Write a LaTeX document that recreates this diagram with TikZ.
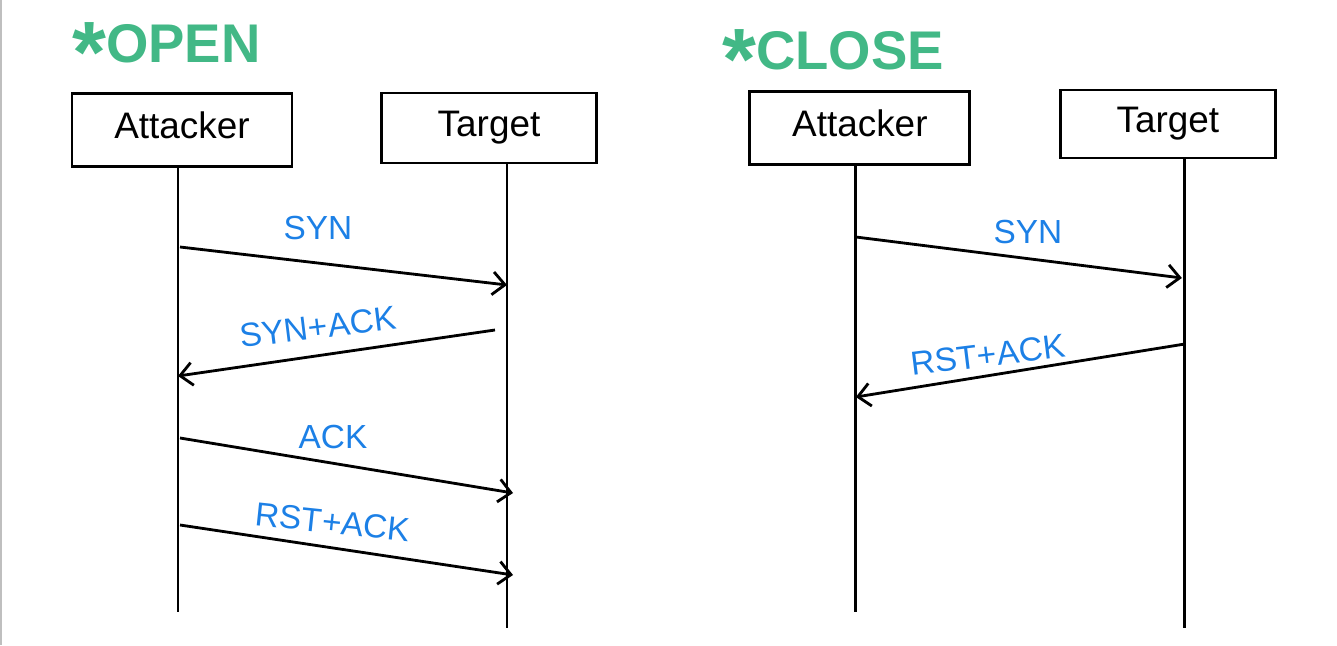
\documentclass[tikz,border=0pt]{standalone}
\usepackage{fontspec}
\setmainfont{Liberation Sans}
\usetikzlibrary{arrows.meta}

\definecolor{markgreen}{RGB}{66,184,134}
\definecolor{penblue}{RGB}{28,128,230}

\tikzset{
    actor/.style={draw, line width=1.6pt, minimum width=4.4cm, minimum height=1.45cm,
        text height=1.0em, text depth=0pt, font=\fontsize{21}{24}\selectfont},
    lifeline/.style={line width=1.6pt},
    msg/.style={line width=1.6pt, -{Straight Barb[length=7pt,width=13pt,line width=1.6pt]}},
    msglabel/.style={text=penblue, font=\fontsize{19}{22}\selectfont},
    heading/.style={text=markgreen, anchor=west, font=\fontsize{31}{36}\bfseries\selectfont}
}

\begin{document}
\begin{tikzpicture}[x=0.02cm, y=-0.02cm]
    \useasboundingbox (0,0) rectangle (1337,645);
    \draw[black!25, line width=1.5pt] (1,0) -- (1,645);

    % OPEN
    \node[heading] (openT) at (66,53) {\raisebox{-0.7ex}{\scalebox{1.6}{*}}OPEN};
    \node[actor] (attA) at (182,130) {Attacker};
    \node[actor, minimum width=4.3cm, minimum height=1.4cm] (tgtA) at (489,128) {Target};
    \coordinate (attAend) at (178,612);
    \coordinate (tgtAend) at (507,628);
    \draw[lifeline] (attA.south -| attAend) -- (attAend);
    \draw[lifeline] (tgtA.south -| tgtAend) -- (tgtAend);

    \coordinate (a1) at (180,247);  \coordinate (t1) at (507,285);
    \coordinate (t2) at (495,330);  \coordinate (a2) at (178,376);
    \coordinate (a3) at (180,438);  \coordinate (t3) at (513,493);
    \coordinate (a4) at (180,525);  \coordinate (t4) at (513,575);
    \draw[msg] (a1) -- (t1);
    \draw[msg] (t2) -- (a2);
    \draw[msg] (a3) -- (t3);
    \draw[msg] (a4) -- (t4);
    \node[msglabel] (synA) at (318,228) {SYN};
    \node[msglabel, rotate=7] (synackA) at (318,327) {SYN+ACK};
    \node[msglabel] (ackA) at (333,437) {ACK};
    \node[msglabel, rotate=-6] (rstackA) at (333,522) {RST+ACK};

    % CLOSE
    \node[heading] (closeT) at (716,60) {\raisebox{-0.7ex}{\scalebox{1.6}{*}}CLOSE};
    \begin{scope}[xshift=13.56cm]
        \node[actor] (attB) at (182,128) {Attacker};
        \node[actor, minimum width=4.3cm, minimum height=1.36cm] (tgtB) at (490,124) {Target};
        \coordinate (attBend) at (178,612);
        \coordinate (tgtBend) at (507,628);
        \draw[lifeline] (attB.south -| attBend) -- (attBend);
        \draw[lifeline] (tgtB.south -| tgtBend) -- (tgtBend);

        \coordinate (b1) at (178,237);  \coordinate (u1) at (504,278);
        \coordinate (u2) at (507,344);  \coordinate (b2) at (178,397);
        \draw[msg] (b1) -- (u1);
        \draw[msg] (u2) -- (b2);
        \node[msglabel] (synB) at (350,232) {SYN};
        \node[msglabel, rotate=7] (rstackB) at (310,355) {RST+ACK};
    \end{scope}
\end{tikzpicture}
\end{document}
